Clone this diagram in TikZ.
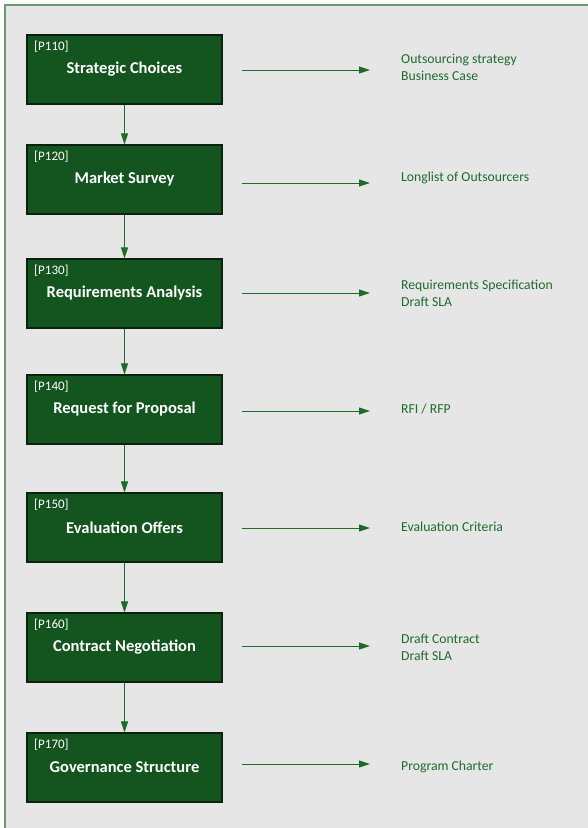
\documentclass[tikz,border=0pt]{standalone}
\usepackage{fontspec}
\setmainfont{Carlito}
\usetikzlibrary{arrows.meta}
\definecolor{boxgreen}{HTML}{13541F}
\definecolor{boxedge}{HTML}{0B200D}
\definecolor{linegreen}{HTML}{1C6B2A}
\definecolor{textgreen}{HTML}{1F6B2C}
\definecolor{framegreen}{HTML}{6B9B6B}
\definecolor{bggrey}{HTML}{E6E6E6}
\begin{document}
\begin{tikzpicture}[x=1pt,y=-1pt,
 procbox/.style={draw=boxedge, line width=1.2pt, fill=boxgreen, minimum width=195pt, minimum height=69pt, inner sep=0pt, text=white, font=\fontsize{16.5}{19}\selectfont\bfseries},
 idlabel/.style={anchor=west, inner sep=0pt, text=white, font=\fontsize{13}{15}\selectfont},
 outtext/.style={anchor=west, inner sep=0pt, align=left, text=textgreen, font=\fontsize{13.7}{17}\selectfont},
 flow/.style={draw=linegreen, line width=0.9pt, -{Triangle[length=11pt,width=7pt]}},
 outflow/.style={flow, shorten <=19pt, shorten >=31pt},
]
\useasboundingbox (0,0) rectangle (588,828);
\fill[white] (0,0) rectangle (588,828);
\fill[bggrey] (5,5) rectangle (588,828);
\draw[framegreen, line width=1.1pt] (5,828) -- (5,5) -- (588,5);

\node[procbox] (b1) at (124.5,69.5) {Strategic Choices};
\node[procbox] (b2) at (124.5,179.5) {Market Survey};
\node[procbox] (b3) at (124.5,293.5) {Requirements Analysis};
\node[procbox] (b4) at (124.5,409.5) {Request for Proposal};
\node[procbox] (b5) at (124.5,527.5) {Evaluation Offers};
\node[procbox] (b6) at (124.5,647.5) {Contract Negotiation};
\node[procbox] (b7) at (124.5,767.5) {Governance Structure};

\node[idlabel] (l1) at (34,46.7) {[P110]};
\node[idlabel] (l2) at (34,156.7) {[P120]};
\node[idlabel] (l3) at (34,270.7) {[P130]};
\node[idlabel] (l4) at (34,386.7) {[P140]};
\node[idlabel] (l5) at (34,504.7) {[P150]};
\node[idlabel] (l6) at (34,624.7) {[P160]};
\node[idlabel] (l7) at (34,744.7) {[P170]};

\node[outtext] (o1) at (401,67.5) {Outsourcing strategy\\Business Case};
\node[outtext] (o2) at (401,178) {Longlist of Outsourcers};
\node[outtext] (o3) at (401,293.5) {Requirements Specification\\Draft SLA};
\node[outtext] (o4) at (401,409) {RFI / RFP};
\node[outtext] (o5) at (401,527) {Evaluation Criteria};
\node[outtext] (o6) at (401,647.5) {Draft Contract\\Draft SLA};
\node[outtext] (o7) at (401,767) {Program Charter};

\draw[flow] (b1.south) -- (b2.north);
\draw[flow] (b2.south) -- (b3.north);
\draw[flow] (b3.south) -- (b4.north);
\draw[flow] (b4.south) -- (b5.north);
\draw[flow] (b5.south) -- (b6.north);
\draw[flow] (b6.south) -- (b7.north);

\draw[outflow] ([yshift=-0.5pt]b1.east) -- ([yshift=-0.5pt]b1.east -| o1.west);
\draw[outflow] ([yshift=-3.5pt]b2.east) -- ([yshift=-3.5pt]b2.east -| o2.west);
\draw[outflow] ([yshift=0.5pt]b3.east) -- ([yshift=0.5pt]b3.east -| o3.west);
\draw[outflow] ([yshift=-1.5pt]b4.east) -- ([yshift=-1.5pt]b4.east -| o4.west);
\draw[outflow] ([yshift=-0.5pt]b5.east) -- ([yshift=-0.5pt]b5.east -| o5.west);
\draw[outflow] ([yshift=1.5pt]b6.east) -- ([yshift=1.5pt]b6.east -| o6.west);
\draw[outflow] ([yshift=3.5pt]b7.east) -- ([yshift=3.5pt]b7.east -| o7.west);
\end{tikzpicture}
\end{document}
